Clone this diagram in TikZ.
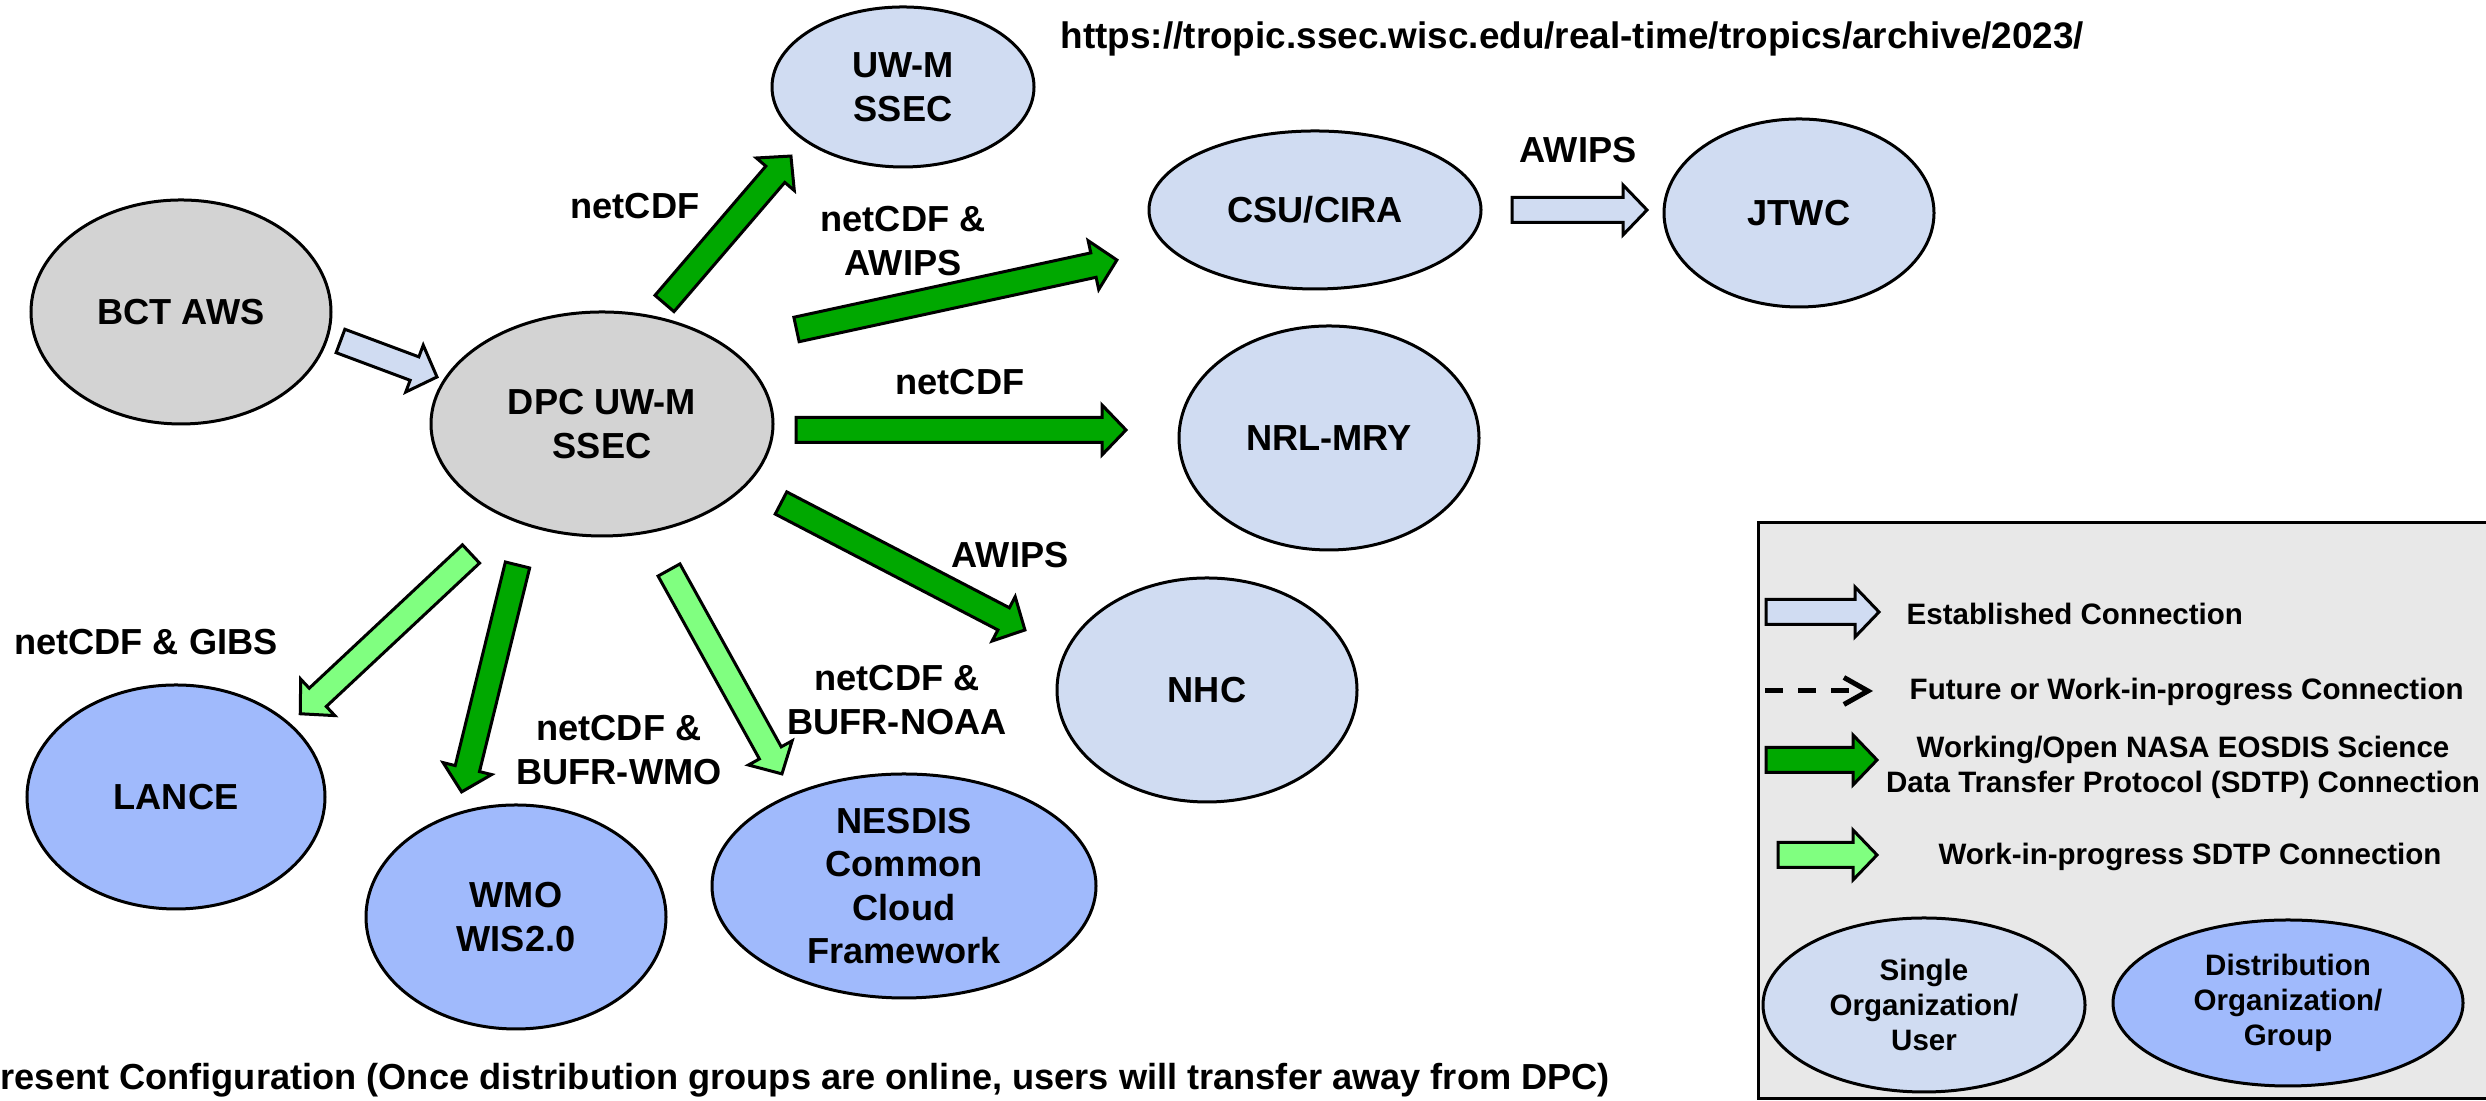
\documentclass[tikz,border=0pt]{standalone}
\usepackage{fontspec}
\setmainfont{Liberation Sans}
\usetikzlibrary{shapes.geometric,arrows.meta,calc,positioning}

\definecolor{nodegray}{RGB}{211,211,211}
\definecolor{userblue}{RGB}{208,220,242}
\definecolor{groupblue}{RGB}{160,186,252}
\definecolor{sdtpgreen}{RGB}{0,168,0}
\definecolor{wipgreen}{RGB}{128,255,128}
\definecolor{legendgray}{RGB}{232,232,232}

\newcommand{\blockarrow}[3]{%
\draw[blockline, fill=#1] let \p1=($(#3)-(#2)$), \n1={atan2(\y1,\x1)}, \n2={veclen(\x1,\y1)} in
  [shift={(#2)}, rotate=\n1] (0,-1.25mm) -- ({\n2*1pt-2.4mm},-1.25mm) -- ({\n2*1pt-2.4mm},-2.5mm)
  -- ({\n2*1pt},0) -- ({\n2*1pt-2.4mm},2.5mm) -- ({\n2*1pt-2.4mm},1.25mm) -- (0,1.25mm) -- cycle;}

\begin{document}
\begin{tikzpicture}[%
org/.style = {ellipse, draw, line width=0.3mm, inner sep=0pt, align=center, font=\fontsize{10.3}{12.4}\selectfont\bfseries},
source org/.style = {org, fill=nodegray},
single org/.style = {org, fill=userblue},
group org/.style = {org, fill=groupblue},
lbl/.style = {align=center, inner sep=0pt, font=\fontsize{10.3}{12.4}\selectfont\bfseries},
key/.style = {align=center, inner sep=0pt, font=\fontsize{8.4}{10}\selectfont\bfseries},
key org/.style = {ellipse, draw, line width=0.3mm, inner sep=0pt, align=center, font=\fontsize{8.4}{10}\selectfont\bfseries},
blockline/.style = {draw=black, line width=0.3mm, line join=miter}]
\useasboundingbox (0,0) rectangle (24.86,11.01);

\draw[fill=legendgray, line width=0.3mm] (17.58,0.02) rectangle (25.2,5.78);

\node[source org, minimum width=3.0cm, minimum height=2.24cm] (bct) at (1.81,7.89) {BCT AWS};
\node[source org, minimum width=3.42cm, minimum height=2.24cm] (dpc) at (6.02,6.77) {DPC UW-M\\SSEC};
\node[single org, minimum width=2.62cm, minimum height=1.6cm] (uwm) at (9.03,10.14) {UW-M\\SSEC};
\node[single org, minimum width=3.32cm, minimum height=1.58cm] (csu) at (13.15,8.91) {CSU/CIRA};
\node[single org, minimum width=2.7cm, minimum height=1.88cm] (jtwc) at (17.99,8.88) {JTWC};
\node[single org, minimum width=3.0cm, minimum height=2.24cm] (nrl) at (13.29,6.63) {NRL-MRY};
\node[single org, minimum width=3.0cm, minimum height=2.24cm] (nhc) at (12.07,4.11) {NHC};
\node[group org, minimum width=2.98cm, minimum height=2.24cm] (lance) at (1.76,3.04) {LANCE};
\node[group org, minimum width=3.0cm, minimum height=2.24cm] (wmo) at (5.16,1.84) {WMO\\WIS2.0};
\node[group org, minimum width=3.84cm, minimum height=2.24cm] (nesdis) at (9.04,2.15) {NESDIS\\Common\\Cloud\\Framework};

\coordinate (bctout) at (3.405,7.60);
\coordinate (bctin) at (4.37,7.24);
\coordinate (uwmout) at (6.645,7.975);
\coordinate (uwmin) at (7.91,9.45);
\coordinate (csuout) at (7.965,7.715);
\coordinate (csuin) at (11.17,8.41);
\coordinate (nrlout) at (7.96,6.71);
\coordinate (nrlin) at (11.26,6.71);
\coordinate (nhcout) at (7.81,5.98);
\coordinate (nhcin) at (10.25,4.71);
\coordinate (jtwcout) at (15.12,8.91);
\coordinate (jtwcin) at (16.47,8.91);
\coordinate (lanceout) at (4.71,5.47);
\coordinate (lancein) at (3.00,3.87);
\coordinate (wmoout) at (5.175,5.36);
\coordinate (wmoin) at (4.616,3.09);
\coordinate (nesdisout) at (6.69,5.31);
\coordinate (nesdisin) at (7.82,3.27);

\blockarrow{userblue}{bctout}{bctin}
\blockarrow{sdtpgreen}{uwmout}{uwmin}
\blockarrow{sdtpgreen}{csuout}{csuin}
\blockarrow{sdtpgreen}{nrlout}{nrlin}
\blockarrow{sdtpgreen}{nhcout}{nhcin}
\blockarrow{userblue}{jtwcout}{jtwcin}
\blockarrow{wipgreen}{lanceout}{lancein}
\blockarrow{sdtpgreen}{wmoout}{wmoin}
\blockarrow{wipgreen}{nesdisout}{nesdisin}

\node[lbl] (l-uwm) at (6.35,8.95) {netCDF};
\node[lbl] (l-csu) at (9.03,8.60) {netCDF \&\\AWIPS};
\node[lbl] (l-nrl) at (9.60,7.19) {netCDF};
\node[lbl] (l-nhc) at (10.10,5.46) {AWIPS};
\node[lbl] (l-jtwc) at (15.78,9.51) {AWIPS};
\node[lbl] (l-lance) at (1.46,4.59) {netCDF \& GIBS};
\node[lbl] (l-wmo) at (6.19,3.51) {netCDF \&\\BUFR-WMO};
\node[lbl] (l-nesdis) at (8.97,4.01) {netCDF \&\\BUFR-NOAA};
\node[lbl, anchor=west, font=\fontsize{10.5}{12.6}\selectfont\bfseries] (url) at (10.60,10.62) {https://tropic.ssec.wisc.edu/real-time/tropics/archive/2023/};
\node[lbl, anchor=west] (caption) at (0,0.21) {resent Configuration (Once distribution groups are online, users will transfer away from DPC)};

\coordinate (k1out) at (17.66,4.89);
\coordinate (k1in) at (18.79,4.89);
\coordinate (k2out) at (17.65,4.10);
\coordinate (k2in) at (18.73,4.10);
\coordinate (k3out) at (17.66,3.41);
\coordinate (k3in) at (18.77,3.41);
\coordinate (k4out) at (17.78,2.46);
\coordinate (k4in) at (18.77,2.46);
\blockarrow{userblue}{k1out}{k1in}
\draw[line width=0.5mm, dash pattern=on 1.8mm off 1.5mm, -{Straight Barb[length=2.4mm, width=2.7mm, line width=0.5mm]}] (k2out) -- (k2in);
\blockarrow{sdtpgreen}{k3out}{k3in}
\blockarrow{wipgreen}{k4out}{k4in}

\node[key, anchor=west] (k1) at (19.06,4.87) {Established Connection};
\node[key, anchor=west] (k2) at (19.09,4.09) {Future or Work-in-progress Connection};
\node[key] (k3) at (21.83,3.34) {Working/Open NASA EOSDIS Science\\Data Transfer Protocol (SDTP) Connection};
\node[key] (k4) at (21.90,2.44) {Work-in-progress SDTP Connection};
\node[key org, fill=userblue, minimum width=3.22cm, minimum height=1.74cm] (single) at (19.24,0.96) {Single\\Organization/\\User};
\node[key org, fill=groupblue, minimum width=3.5cm, minimum height=1.66cm] (distrib) at (22.88,0.98) {Distribution\\Organization/\\Group};
\end{tikzpicture}
\end{document}
